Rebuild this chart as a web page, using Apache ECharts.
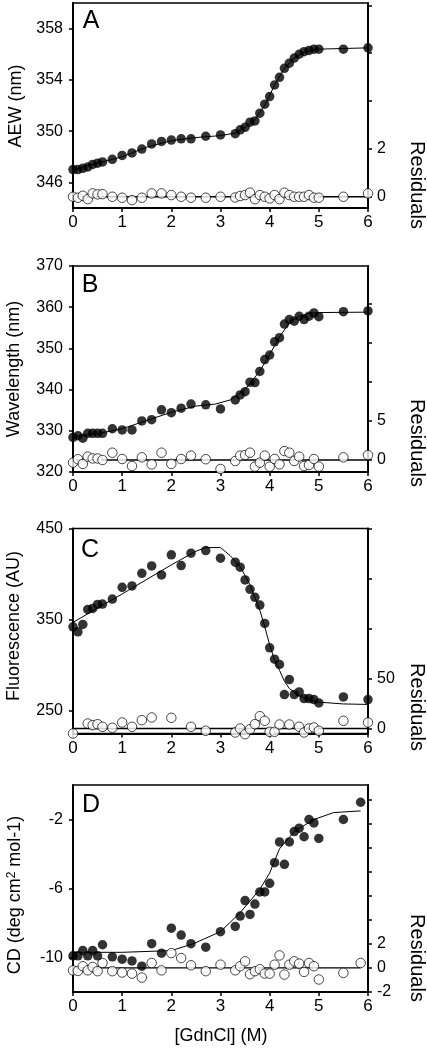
<!DOCTYPE html>
<html>
<head>
<meta charset="utf-8">
<script src="https://cdn.jsdelivr.net/npm/echarts@6/dist/echarts.min.js"></script>
<style>
html,body{margin:0;padding:0;background:#fff;}
#chart{width:427px;height:1048px;}
</style>
</head>
<body>
<div id="chart"></div>
<script>
// ---------- data ----------
const conc  = [0,0.1,0.2,0.3,0.4,0.5,0.6,0.8,1.0,1.2,1.4,1.6,1.8,2.0,2.2,2.4,2.7,3.0,3.3,3.4,3.5,3.6,3.7,3.8,3.9,4.0,4.1,4.2,4.3,4.4,4.5,4.6,4.7,4.8,4.9,5.0,5.5,6.0];
const concD = [0,0.1,0.2,0.3,0.4,0.5,0.6,0.8,1.0,1.2,1.4,1.6,1.8,2.0,2.2,2.4,2.7,3.0,3.3,3.4,3.5,3.6,3.7,3.8,3.9,4.0,4.1,4.2,4.3,4.4,4.5,4.6,4.7,4.8,4.9,5.0,5.5,5.85];

// Panel A: AEW
const aMeas = [347.0,347.0,347.1,347.2,347.4,347.5,347.6,347.8,348.1,348.3,348.6,349.0,349.2,349.3,349.4,349.4,349.6,349.7,349.8,350.1,350.3,350.7,350.8,351.4,352.1,352.7,353.6,354.2,354.9,355.3,355.7,356.0,356.2,356.3,356.4,356.4,356.4,356.5];
const aRes  = [0,-0.04,0.04,-0.1,0.14,0.1,0.11,0,-0.04,-0.14,-0.04,0.14,0.14,0.07,0,-0.04,-0.04,0,-0.03,0.03,0.07,0.17,-0.1,0.07,0,-0.07,0.07,-0.1,0.17,0.07,0,0,0,0.07,-0.04,-0.04,0,0.14];
const aFitX = [0,0.5,1,1.5,2,2.5,3,3.3,3.5,3.7,3.9,4.1,4.3,4.5,4.7,4.9,5,5.5,6];
const aFitY = [347.0,347.5,348.0,348.75,349.25,349.5,349.65,349.85,350.3,350.9,352.0,353.6,354.9,355.7,356.15,356.35,356.4,356.45,356.5];

// Panel B: Wavelength
const bMeas = [328.4,328.8,328.2,329.4,329.4,329.4,329.4,330.5,330.2,330.2,332.4,332.7,335.1,334.4,335.5,336.5,336.3,335.3,337.5,338.7,339.5,341.8,341.7,344.4,347.3,348.4,351.6,352.6,355.9,357.0,356.6,357.8,357.0,357.8,358.6,357.7,358.9,359.1];
const bRes  = [-0.34,0.1,-0.5,0.43,0.2,0.2,0,0.94,0.13,-0.77,0.34,-0.56,0.94,-0.5,0.13,0.56,0.1,-1.15,-0.13,0.56,0.64,0.94,-0.85,-0.34,0.56,-0.85,0.13,-0.56,1.15,0.94,-0.13,0.43,-0.77,-0.64,0.13,-0.85,0.34,0.64];
const bFitX = [0,0.5,1.0,1.5,2.0,2.5,2.9,3.2,3.5,3.8,4.0,4.2,4.4,4.6,4.8,5.0,6.0];
const bFitY = [328.6,329.3,330.5,332.5,334.5,336.0,336.5,337.5,340.0,344.5,348.5,352.8,356.2,357.8,358.5,358.7,358.8];

// Panel C: Fluorescence
const cMeas = [341.9,336.4,344.5,361.0,362.1,366.5,366.9,372.4,385.3,386.8,400.7,408.8,398.9,421.0,409.2,422.8,425.7,417.3,412.9,407.4,393.4,383.1,374.3,365.8,345.6,318.8,306.3,300.4,267.3,283.8,267.3,270.2,262.9,262.9,261.8,258.1,264.7,261.8];
const cRes  = [-5,null,null,5,3.3,4.3,1.7,0.7,6,1.7,8.3,11,null,10.7,null,1.7,-2.3,null,-4,0,-5.7,-0.7,4.3,12.3,7.7,-3.3,-3.3,4,null,4,null,1.7,-4,0,1,-2.3,7.7,6];
const cFitX = [0,0.5,1,1.5,2,2.5,2.7,3.0,3.2,3.4,3.6,3.8,3.9,4.0,4.1,4.2,4.3,4.4,4.6,4.8,5.0,5.5,6.0];
const cFitY = [346.7,362.5,378,394,410,425,429,429,420,408,388,360,342,322,305,294,282,274,266,261,259,257,256.5];

// Panel D: CD
const dMeas = [-9.9,-9.9,-9.6,-9.9,-9.6,-9.9,-9.26,-9.96,-10.1,-10.2,-10.5,-9.2,-9.75,-8.3,-8.7,-9.2,-9.4,-8.5,-8.2,-7.6,-6.7,-7.5,-6.9,-6.2,-6.2,-5.7,-4.5,-3.3,-4.6,-3.3,-2.7,-2.5,-3.0,-2.0,-2.2,-3.1,-2.0,-1.0];
const dRes  = [-0.2,-0.25,0.14,-0.2,0.08,-0.27,0.41,-0.27,-0.38,-0.47,-0.8,0.41,-0.2,1.23,0.82,0.22,-0.27,0.27,-0.2,0.14,0.55,-0.52,-0.27,-0.11,-0.47,-0.47,0.27,1.04,-0.55,0.27,0.55,0.36,-0.33,0.41,0.14,-0.96,-0.41,0.41];
const dFitX = [0,1,2,2.45,3,3.4,3.8,4.0,4.2,4.5,4.9,5.3,5.85];
const dFitY = [-9.7,-9.7,-9.6,-9.2,-8.5,-7.4,-6.05,-5.1,-3.7,-2.7,-2.0,-1.6,-1.5];

// zero lines of residuals
const zeroA = [0,6], zeroB = [0,6], zeroC = [0,6], zeroD = [0,5.85];

// tick labels
const xTicks = [0,1,2,3,4,5,6];
const aLeftTicks = [346,350,354,358], aRightTicks = [0,2,4,6,8], aRightLabels = [0,2];
const bLeftTicks = [320,330,340,350,360,370], bRightTicks = [0,5,10,15,20], bRightLabels = [0,5];
const cLeftTicks = [250,350,450], cRightTicks = [0,50,100,150,200], cRightLabels = [0,50];
const dLeftTicks = [-2,-6,-10], dRightTicks = [-2,0,2,4,6,8,10,12,14], dRightLabels = [-2,0,2];

// ---------- helpers ----------
const FONT = '"Liberation Sans", Arial, Helvetica, sans-serif';
const pairs = (xs, ys) => xs.map((x, i) => [x, ys[i]]).filter(p => p[1] !== null);

const panels = [
  {top:3,   height:205, lmin:344,   lmax:360, rmin:-0.47, rmax:8.1,  lt:aLeftTicks, rt:aRightTicks, rl:aRightLabels,
   meas:aMeas, res:aRes, fx:aFitX, fy:aFitY, zero:zeroA, xs:conc},
  {top:266, height:206, lmin:320,   lmax:370, rmin:-1.54, rmax:24.9, lt:bLeftTicks, rt:bRightTicks, rl:bRightLabels,
   meas:bMeas, res:bRes, fx:bFitX, fy:bFitY, zero:zeroB, xs:conc},
  {top:528.5, height:205, lmin:224.5, lmax:450, rmin:-5, rmax:200, lt:cLeftTicks, rt:cRightTicks, rl:cRightLabels,
   meas:cMeas, res:cRes, fx:cFitX, fy:cFitY, zero:zeroC, xs:conc},
  {top:785, height:207, lmin:-12,   lmax:0,   rmin:-2, rmax:15.2,   lt:dLeftTicks, rt:dRightTicks, rl:dRightLabels,
   meas:dMeas, res:dRes, fx:dFitX, fy:dFitY, zero:zeroD, xs:concD}
];

const grid = [], xAxis = [], yAxis = [], series = [];
panels.forEach((p, i) => {
  grid.push({left:73, width:295, top:p.top, height:p.height, show:true, borderColor:'#000', borderWidth:1.5, backgroundColor:'transparent'});
  xAxis.push({
    type:'value', gridIndex:i, min:0, max:6, interval:1,
    axisLine:{show:true, onZero:false, lineStyle:{color:'#000', width:2}},
    axisTick:{show:true, inside:false, length:4, lineStyle:{color:'#000', width:1.5}},
    axisLabel:{color:'#000', fontSize:17, fontFamily:FONT, margin:6, customValues:xTicks},
    splitLine:{show:false}
  });
  yAxis.push({
    type:'value', gridIndex:i, position:'left', min:p.lmin, max:p.lmax,
    axisLine:{show:true, onZero:false, lineStyle:{color:'#000', width:2}},
    axisTick:{show:true, inside:false, length:4, lineStyle:{color:'#000', width:1.5}, customValues:p.lt},
    axisLabel:{color:'#000', fontSize:16, fontFamily:FONT, margin:10, customValues:p.lt},
    splitLine:{show:false}
  });
  yAxis.push({
    type:'value', gridIndex:i, position:'right', min:p.rmin, max:p.rmax,
    axisLine:{show:true, onZero:false, lineStyle:{color:'#000', width:2}},
    axisTick:{show:true, inside:false, length:4, lineStyle:{color:'#000', width:1.5}, customValues:p.rt},
    axisLabel:{color:'#000', fontSize:16, fontFamily:FONT, margin:9, customValues:p.rl},
    splitLine:{show:false}
  });
  // residual zero line
  series.push({type:'line', xAxisIndex:i, yAxisIndex:2*i+1, data:p.zero.map(x => [x, 0]),
    symbol:'none', lineStyle:{color:'#000', width:1.3}, z:2, silent:true});
  // fit line
  series.push({type:'line', xAxisIndex:i, yAxisIndex:2*i, data:pairs(p.fx, p.fy),
    symbol:'none', lineStyle:{color:'#000', width:1}, z:2, silent:true});
  // residuals (open circles)
  series.push({type:'scatter', xAxisIndex:i, yAxisIndex:2*i+1, data:pairs(p.xs, p.res),
    symbol:'circle', symbolSize:9.5, clip:false,
    itemStyle:{color:'#fff', borderColor:'#000', borderWidth:0.9}, z:3, silent:true});
  // measured (filled circles)
  series.push({type:'scatter', xAxisIndex:i, yAxisIndex:2*i, data:pairs(p.xs, p.meas),
    symbol:'circle', symbolSize:9.5, clip:false,
    itemStyle:{color:'#000', borderColor:'#000', borderWidth:0}, z:4, silent:true});
});

const txt = (text, x, y, size, rot, extra) => Object.assign({
  type:'text', x:x, y:y, rotation:rot || 0, z:10, silent:true,
  style:{text:text, fill:'#000', font:size + 'px ' + FONT, align:'center', verticalAlign:'middle'}
}, extra || {});

const graphic = [
  txt('A', 91, 21, 25), txt('B', 90, 285, 25), txt('C', 90, 550, 25), txt('D', 91, 805, 25),
  txt('AEW (nm)', 16.5, 106, 18, Math.PI/2),
  txt('Wavelength (nm)', 14.5, 369, 18, Math.PI/2),
  txt('Fluorescence (AU)', 14.5, 626, 18, Math.PI/2),
  {type:'text', x:15, y:895, rotation:Math.PI/2, z:10, silent:true,
   style:{text:'CD (deg cm{sup|2} mol-1)', fill:'#000', font:'18px ' + FONT, align:'center', verticalAlign:'middle',
     rich:{sup:{fontSize:12, fontFamily:FONT, fill:'#000', verticalAlign:'top', lineHeight:12, padding:[0,0,8,0]}}}},
  txt('Residuals', 416.5, 185, 20, -Math.PI/2),
  txt('Residuals', 416.5, 443, 20, -Math.PI/2),
  txt('Residuals', 416.5, 707, 20, -Math.PI/2),
  txt('Residuals', 416.5, 958, 20, -Math.PI/2),
  txt('[GdnCl] (M)', 221, 1036, 18)
];

const chart = echarts.init(document.getElementById('chart'), null, {renderer:'canvas'});
chart.setOption({animation:false, backgroundColor:'#fff', grid, xAxis, yAxis, series, graphic});
</script>
</body>
</html>
